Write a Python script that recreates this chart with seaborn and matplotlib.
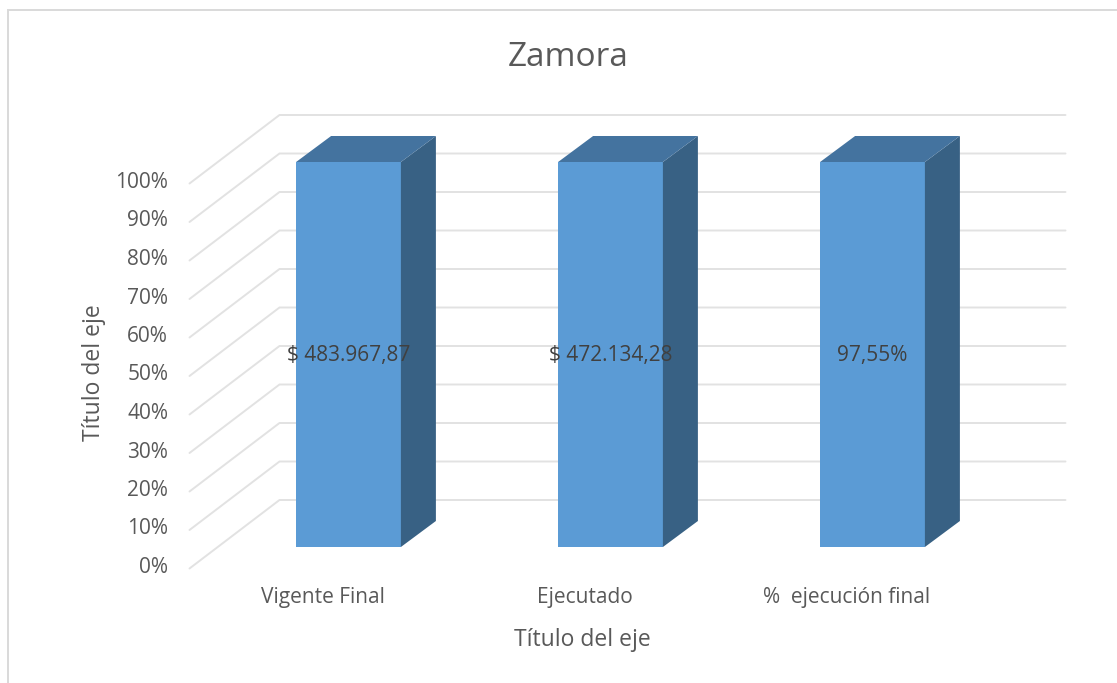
import matplotlib
matplotlib.use("Agg")
import matplotlib.pyplot as plt
import matplotlib.transforms as mtrans
from matplotlib.lines import Line2D
from matplotlib.patches import Polygon
import pandas as pd
import seaborn as sns

# ---- data ----
categories = ["Vigente Final", "Ejecutado", "%  ejecución final"]
shares = [100, 100, 100]
value_labels = ["$ 483.967,87", "$ 472.134,28", "97,55%"]
y_ticks = [0, 10, 20, 30, 40, 50, 60, 70, 80, 90, 100]
y_tick_labels = ["0%", "10%", "20%", "30%", "40%", "50%", "60%", "70%", "80%", "90%", "100%"]
title = "Zamora"
x_title = "Título del eje"
y_title = "Título del eje"

# ---- style ----
W, H, DPI = 1117, 683, 100
FONT = "Open Sans"
TXT = "#595959"
GRID = "#E2E2E2"
FRONT = "#5B9BD5"
TOP = "#44739F"
SIDE = "#386184"

sns.set_theme(style="white")
plt.rcParams["font.family"] = [FONT, "DejaVu Sans"]

fig = plt.figure(figsize=(W / DPI, H / DPI), dpi=DPI, facecolor="white")
ax = fig.add_axes([217.5 / W, (H - 547) / H, 786 / W, 385 / H])
ax.patch.set_visible(False)

df = pd.DataFrame({"cat": categories, "share": shares})
sns.barplot(data=df, x="cat", y="share", color=FRONT, saturation=1, width=0.4,
            ax=ax, zorder=3)
ax.set_xlim(-0.5, 2.5)
ax.set_ylim(0, 100)
sns.despine(ax=ax, left=True, bottom=True, top=True, right=True)

fig.canvas.draw()
to_px = ax.transData.transform
ident = mtrans.IdentityTransform()

# receding wall gridlines (pixel offsets of the 3D projection)
x0, x1 = ax.get_xlim()
for v in y_ticks:
    (xl, y), (xr, _) = to_px([(x0, v), (x1, v)])
    ax.add_line(Line2D([xl - 28, xl + 62, xr + 62], [y - 21.5, y + 47, y + 47],
                       transform=ident, color=GRID, lw=1.4, clip_on=False,
                       zorder=1, solid_joinstyle="miter"))

# bar depth
DX, DY = 35, 26
for bar, lab in zip(ax.patches, value_labels):
    bar.set_edgecolor("none")
    a = bar.get_x()
    b = a + bar.get_width()
    h = bar.get_height()
    (xa, yb), (xb, yt) = to_px([(a, 0), (b, h)])
    ax.add_patch(Polygon([(xb, yb), (xb + DX, yb + DY), (xb + DX, yt + DY), (xb, yt)],
                         closed=True, transform=ident, fc=SIDE, ec="none", zorder=4, clip_on=False))
    ax.add_patch(Polygon([(xa, yt), (xb, yt), (xb + DX, yt + DY), (xa + DX, yt + DY)],
                         closed=True, transform=ident, fc=TOP, ec="none", zorder=4, clip_on=False))
    ax.text(a + bar.get_width() / 2, h / 2, lab, ha="center", va="center",
            fontsize=15, color="#404040", zorder=6,
            transform=ax.transData + mtrans.Affine2D().translate(0, -1.5))

# ticks
ax.set_yticks(y_ticks)
ax.set_yticklabels(y_tick_labels, fontsize=15, color=TXT)
ax.tick_params(axis="y", length=0, pad=35.5)
ax.set_xticks(range(len(categories)))
ax.set_xticklabels(categories, fontsize=15, color=TXT)
ax.tick_params(axis="x", length=0, pad=28.5)
for t in ax.get_yticklabels():
    t.set_transform(t.get_transform() + mtrans.Affine2D().translate(0, -18))
for t in ax.get_xticklabels():
    t.set_transform(t.get_transform() + mtrans.Affine2D().translate(-26, 0))

# titles
ax.set_xlabel(x_title, fontsize=16.5, color=TXT)
ax.xaxis.set_label_coords((582 - 217.5) / 786, -(640 - 547) / 385)
ax.xaxis.label.set_va("center")
ax.set_ylabel(y_title, fontsize=16.5, color=TXT)
ax.yaxis.set_label_coords((94 - 217.5) / 786, (547 - 373) / 385)
ax.yaxis.label.set_va("center")
fig.text(568 / W, 1 - 57 / H, title, ha="center", va="center", fontsize=24, color=TXT)

# chart frame (top and left edges visible)
fig.add_artist(Line2D([8 / W, 8 / W, 1], [0, 1 - 10 / H, 1 - 10 / H], transform=fig.transFigure,
                      color="#D9D9D9", lw=1.4, solid_joinstyle="miter"))

fig.savefig("out.png", dpi=DPI)
